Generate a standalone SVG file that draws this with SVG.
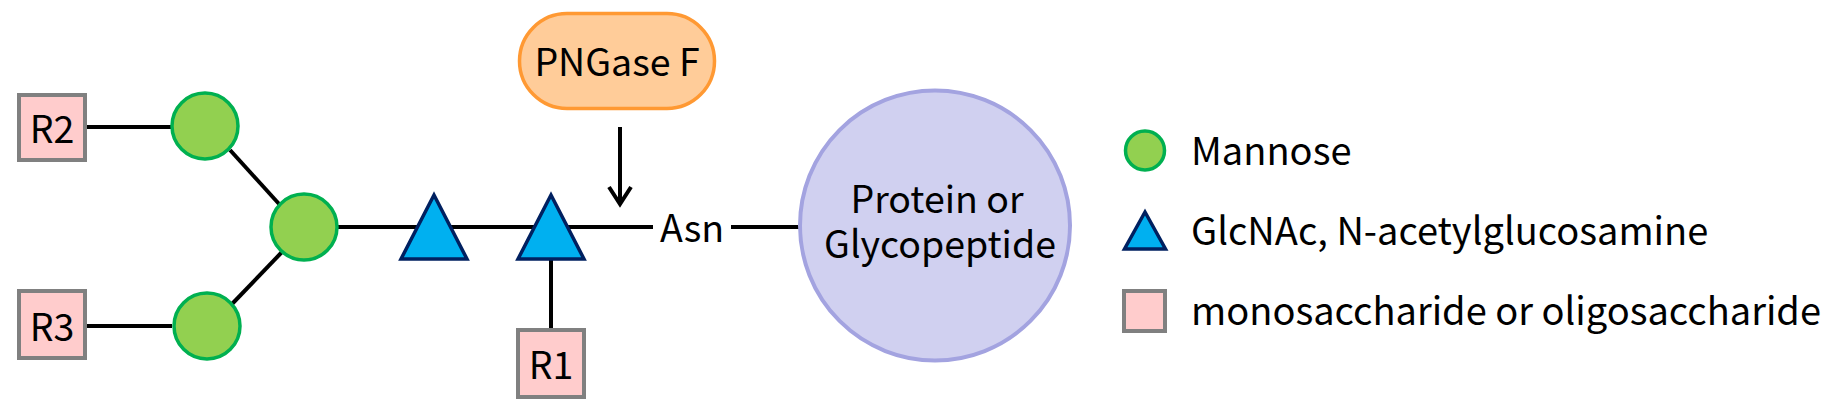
<svg xmlns="http://www.w3.org/2000/svg" width="1835" height="410" viewBox="0 0 1835 410">
<style>
text{font-family:"Noto Sans CJK SC","Noto Sans","Liberation Sans",sans-serif;font-size:37.5px;fill:#000}
.c{text-anchor:middle}
.lg{font-size:38px}
.man{fill:#92D050;stroke:#00B050;stroke-width:3.5}
.glc{fill:#00B0F0;stroke:#002060;stroke-width:3.5;stroke-linejoin:miter}
.r{fill:#FFCCCC;stroke:#808080;stroke-width:4}
.ln{stroke:#000;stroke-width:4;fill:none}
</style>
<rect width="1835" height="410" fill="#fff"/>
<g id="connectors">
<line class="ln" x1="87" y1="127" x2="171" y2="127"/>
<line class="ln" x1="87" y1="326" x2="172" y2="326"/>
<line class="ln" x1="230" y1="150" x2="280" y2="205"/>
<line class="ln" x1="232" y1="304" x2="282" y2="252"/>
<line class="ln" x1="338" y1="227" x2="653" y2="227"/>
<line class="ln" x1="551" y1="259" x2="551" y2="330"/>
<line class="ln" x1="731" y1="227" x2="800" y2="227"/>
<g id="pngase-arrow">
<line class="ln" x1="620" y1="127" x2="620" y2="204" stroke-width="3.5"/>
<polyline class="ln" points="609,187 620,204 631,187" stroke-width="3.5"/>
</g>
</g>
<g id="R2"><rect class="r" x="19" y="95" width="66" height="65"/><text class="c" x="52" y="143">R2</text></g>
<g id="R3"><rect class="r" x="19" y="291" width="66" height="67"/><text class="c" x="52" y="341">R3</text></g>
<g id="R1"><rect class="r" x="518" y="330" width="66" height="67"/><text class="c" x="551" y="379">R1</text></g>
<g id="man-top"><circle class="man" cx="205" cy="126" r="33"/></g>
<g id="man-center"><circle class="man" cx="304" cy="227" r="33"/></g>
<g id="man-bottom"><circle class="man" cx="207" cy="326" r="33"/></g>
<g id="glc1"><polygon class="glc" points="434,195 401,259 467,259"/></g>
<g id="glc2"><polygon class="glc" points="551,195 518,259 584,259"/></g>
<g id="pngase"><rect x="519.5" y="13.5" width="195" height="95" rx="47.5" fill="#FFCC99" stroke="#FF9933" stroke-width="3.5"/><text class="c" x="617" y="76">PNGase F</text></g>
<g id="asn"><text class="c" x="692" y="242">Asn</text></g>
<g id="protein"><circle cx="935" cy="225.5" r="135" fill="#D0D0F0" stroke="#A3A3E0" stroke-width="4"/><text class="c"><tspan x="937" y="213">Protein or</tspan><tspan x="940" y="258">Glycopeptide</tspan></text></g>
<g id="legend">
<circle class="man" cx="1145" cy="150.5" r="19.5"/>
<text class="lg" x="1191" y="165">Mannose</text>
<polygon class="glc" points="1145,212 1124.5,249 1165.5,249"/>
<text class="lg" x="1191" y="245">GlcNAc, N-acetylglucosamine</text>
<rect class="r" x="1124" y="291" width="41" height="40"/>
<text class="lg" x="1191" y="325">monosaccharide or oligosaccharide</text>
</g>
</svg>
